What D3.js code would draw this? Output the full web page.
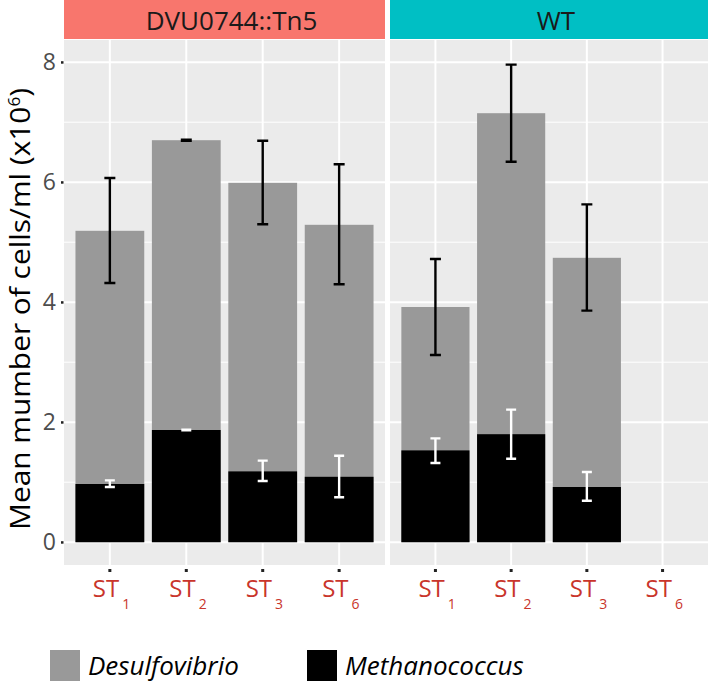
<!DOCTYPE html>
<html>
<head>
<meta charset="utf-8">
<script src="https://cdn.jsdelivr.net/npm/d3@7"></script>
<style>
  body { margin: 0; background: #fff; }
  svg { display: block; font-family: "Open Sans", "Noto Sans", sans-serif; }
</style>
</head>
<body>
<svg id="chart" width="709" height="683"></svg>
<script>
var strains = ['DVU0744::Tn5', 'WT']
var strainColors = ['#F8766D', '#00BFC4']
var stations = ['1', '2', '3', '6']
var yTicks = [0, 2, 4, 6, 8]

// Desulfovibrio mean and error (x10^6 cells/ml), by strain then station
var desulfoMean = [[5.19, 6.70, 5.99, 5.29], [3.92, 7.15, 4.74, null]]
var desulfoLow  = [[4.32, 6.69, 5.30, 4.30], [3.12, 6.34, 3.86, null]]
var desulfoHigh = [[6.07, 6.71, 6.69, 6.30], [4.72, 7.96, 5.63, null]]

// Methanococcus mean and error
var methMean = [[0.97, 1.87, 1.18, 1.09], [1.53, 1.80, 0.92, null]]
var methLow  = [[0.92, 1.865, 1.02, 0.75], [1.32, 1.39, 0.69, null]]
var methHigh = [[1.03, 1.875, 1.36, 1.44], [1.73, 2.21, 1.17, null]]

var svg = d3.select('#chart')
var panels = [{x0: 64, x1: 385}, {x0: 390, x1: 708}]
var panelTop = 40, panelBottom = 565

var y = d3.scaleLinear().domain([-0.38, 8.37]).range([panelBottom, panelTop])

panels.forEach(function(p, pi) {
    var x = d3.scalePoint().domain(stations).range([p.x0, p.x1]).padding(0.6)
    var barW = x.step() * 0.9
    var g = svg.append('g')

    // strip
    g.append('rect').attr('x', p.x0).attr('y', 0).attr('width', p.x1 - p.x0).attr('height', panelTop - 1)
        .attr('fill', strainColors[pi])
    g.append('text').attr('x', (p.x0 + p.x1) / 2 + 7).attr('y', 30)
        .attr('text-anchor', 'middle').attr('font-size', 26).attr('fill', '#1a1a1a')
        .text(strains[pi])

    // panel background + grid
    g.append('rect').attr('x', p.x0).attr('y', panelTop).attr('width', p.x1 - p.x0).attr('height', panelBottom - panelTop)
        .attr('fill', '#ebebeb')
    d3.range(1, 8, 2).forEach(function(v) {
        g.append('line').attr('x1', p.x0).attr('x2', p.x1).attr('y1', y(v)).attr('y2', y(v))
            .attr('stroke', '#fff').attr('stroke-width', 1)
    })
    yTicks.forEach(function(v) {
        g.append('line').attr('x1', p.x0).attr('x2', p.x1).attr('y1', y(v)).attr('y2', y(v))
            .attr('stroke', '#fff').attr('stroke-width', 2)
    })
    stations.forEach(function(s) {
        g.append('line').attr('x1', x(s)).attr('x2', x(s)).attr('y1', panelTop).attr('y2', panelBottom)
            .attr('stroke', '#fff').attr('stroke-width', 2)
    })

    var idx = d3.range(stations.length).filter(function(i) { return desulfoMean[pi][i] != null })

    g.selectAll('.desulfo').data(idx).enter().append('rect')
        .attr('x', function(i) { return x(stations[i]) - barW / 2 })
        .attr('y', function(i) { return y(desulfoMean[pi][i]) })
        .attr('width', barW)
        .attr('height', function(i) { return y(0) - y(desulfoMean[pi][i]) })
        .attr('fill', '#999999')
    g.selectAll('.meth').data(idx).enter().append('rect')
        .attr('x', function(i) { return x(stations[i]) - barW / 2 })
        .attr('y', function(i) { return y(methMean[pi][i]) })
        .attr('width', barW)
        .attr('height', function(i) { return y(0) - y(methMean[pi][i]) })
        .attr('fill', '#000')

    function errorBars(lo, hi, color, cap) {
        idx.forEach(function(i) {
            var cx = x(stations[i])
            var path = d3.path()
            path.moveTo(cx, y(lo[pi][i])); path.lineTo(cx, y(hi[pi][i]))
            path.moveTo(cx - cap / 2, y(lo[pi][i])); path.lineTo(cx + cap / 2, y(lo[pi][i]))
            path.moveTo(cx - cap / 2, y(hi[pi][i])); path.lineTo(cx + cap / 2, y(hi[pi][i]))
            g.append('path').attr('d', path.toString()).attr('fill', 'none')
                .attr('stroke', color).attr('stroke-width', 2.4)
        })
    }
    errorBars(desulfoLow, desulfoHigh, '#000', 11)
    errorBars(methLow, methHigh, '#fff', 10)

    // x ticks and labels
    stations.forEach(function(s) {
        g.append('rect').attr('x', x(s) - 1.5).attr('y', 569).attr('width', 3).attr('height', 3).attr('fill', '#222')
        var t = g.append('text').attr('x', x(s) - 17).attr('y', 597)
            .attr('fill', '#c9352b').attr('font-size', 24)
        t.append('tspan').text('ST')
        t.append('tspan').attr('dx', 3).attr('dy', 12).attr('font-size', 14).text(s)
    })
})

// y axis
yTicks.forEach(function(v) {
    svg.append('text').attr('x', 56).attr('y', y(v) + 8).attr('text-anchor', 'end')
        .attr('font-size', 23).attr('fill', '#4d4d4d').text(v)
    svg.append('rect').attr('x', 61).attr('y', y(v) - 1).attr('width', 2.5).attr('height', 2.5).attr('fill', '#222')
})

var title = svg.append('text').attr('text-anchor', 'middle').attr('font-size', 28).attr('fill', '#000')
title.append('tspan').text('Mean mumber of cells/ml (x10')
title.append('tspan').attr('dy', -10).attr('font-size', 16).text('6')
title.append('tspan').attr('dy', 10).text(')')
var titleLen = title.node().getBBox().width
title.attr('transform', 'translate(30,309) rotate(-90) scale(' + (442 / titleLen) + ',1)')

// legend
var legendItems = [
    {label: 'Desulfovibrio', color: '#999999', x: 50},
    {label: 'Methanococcus', color: '#000', x: 307}
]
legendItems.forEach(function(d) {
    svg.append('rect').attr('x', d.x).attr('y', 650).attr('width', 30).attr('height', 31).attr('fill', d.color)
    svg.append('text').attr('x', d.x + 38).attr('y', 675).attr('font-size', 26)
        .attr('font-style', 'italic').attr('fill', '#000').text(d.label)
})
</script>
</body>
</html>
